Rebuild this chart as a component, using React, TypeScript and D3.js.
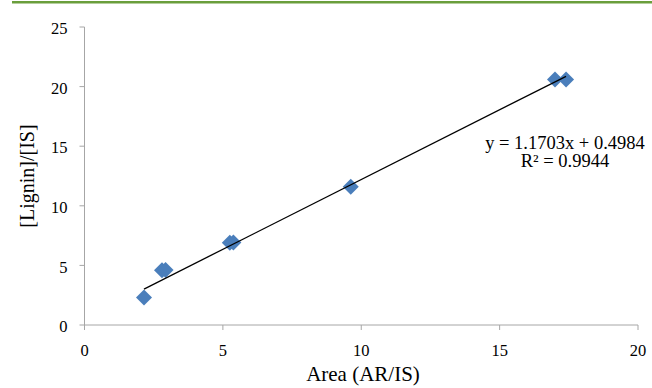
import React from "react";
import * as d3 from "d3";

const xValues = [2.15, 2.8, 2.93, 5.25, 5.38, 9.62, 17.0, 17.4];
const yValues = [2.3, 4.6, 4.62, 6.9, 6.92, 11.6, 20.6, 20.6];
const xTicks = [0, 5, 10, 15, 20];
const yTicks = [0, 5, 10, 15, 20, 25];
const slope = 1.1703;
const intercept = 0.4984;
const eqText = "y = 1.1703x + 0.4984";
const r2Text = "R² = 0.9944";

export default function App() {
  const W = 652, H = 388;
  const x = d3.scaleLinear().domain([0, 20]).range([84.5, 638]);
  const y = d3.scaleLinear().domain([0, 25]).range([325, 27]);
  const font = "'Liberation Serif', 'Times New Roman', serif";
  const axisColor = "#a6a6a6";
  const xMin = d3.min(xValues)!;
  const xMax = d3.max(xValues)!;
  const diamond = d3.symbol().type(d3.symbolSquare).size(128)();
  return (
    <svg width={W} height={H} style={{ position: "absolute", left: 0, top: 0 }}>
      <rect width={W} height={H} fill="#fff" />
      <line x1={12} x2={652} y1={2.2} y2={2.2} stroke="#6a9e3c" strokeWidth={2.6} />
      {/* axes */}
      <line x1={x(0)} x2={x(0)} y1={y(0)} y2={y(25)} stroke={axisColor} />
      <line x1={x(0)} x2={x(20)} y1={y(0)} y2={y(0)} stroke={axisColor} />
      {yTicks.map((t) => (
        <g key={"y" + t}>
          <line x1={x(0) - 5} x2={x(0)} y1={y(t)} y2={y(t)} stroke={axisColor} />
          <text x={x(0) - 17} y={y(t) + 1.5} dy="0.35em" textAnchor="end" fontFamily={font} fontSize={16.5} fill="#000">
            {t}
          </text>
        </g>
      ))}
      {xTicks.map((t) => (
        <g key={"x" + t}>
          <line x1={x(t)} x2={x(t)} y1={y(0)} y2={y(0) + 5} stroke={axisColor} />
          <text x={x(t)} y={y(0) + 31} textAnchor="middle" fontFamily={font} fontSize={16.5} fill="#000">
            {t}
          </text>
        </g>
      ))}
      {/* points */}
      {xValues.map((v, i) => (
        <path
          key={"p" + i}
          d={diamond}
          transform={`translate(${x(v)},${y(yValues[i])}) rotate(45)`}
          fill="#4a7ebb"
        />
      ))}
      {/* trendline */}
      <line
        x1={x(xMin)}
        y1={y(slope * xMin + intercept)}
        x2={x(xMax)}
        y2={y(slope * xMax + intercept)}
        stroke="#000"
        strokeWidth={1.3}
      />
      <text x={565} y={148.5} textAnchor="middle" fontFamily={font} fontSize={18.5} fill="#000">
        {eqText}
      </text>
      <text x={565} y={167} textAnchor="middle" fontFamily={font} fontSize={18.5} fill="#000">
        {r2Text}
      </text>
      <text x={363} y={381} textAnchor="middle" fontFamily={font} fontSize={21} fill="#000">
        Area (AR/IS)
      </text>
      <text
        transform={`translate(34,176) rotate(-90)`}
        textAnchor="middle"
        fontFamily={font}
        fontSize={20}
        fill="#000"
      >
        [Lignin]/[IS]
      </text>
    </svg>
  );
}
